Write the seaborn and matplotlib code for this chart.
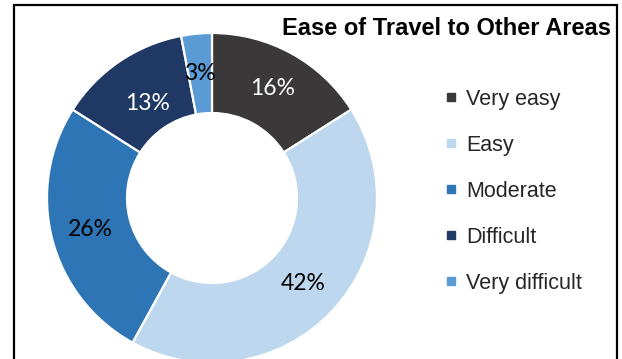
import numpy as np
import matplotlib
matplotlib.use("Agg")
import matplotlib.pyplot as plt
from matplotlib.lines import Line2D
from matplotlib.patches import Rectangle
import seaborn as sns

# Survey responses: ease of travel to other areas (percent of respondents)
categories = ["Very easy", "Easy", "Moderate", "Difficult", "Very difficult"]
shares = [16, 42, 26, 13, 3]
slice_colors = ["#3a3838", "#bdd7ee", "#2e75b6", "#203864", "#5b9bd5"]
label_colors = ["white", "black", "black", "white", "black"]
title = "Ease of Travel to Other Areas"

sns.set_theme(style="white")
palette = sns.color_palette(slice_colors)

W, H = 622, 359
fig = plt.figure(figsize=(W / 100, H / 100), dpi=100)

# Donut centred at (212, 198) px with outer radius 165 px
cx, cy, R = 212, 198, 165
ax = fig.add_axes([(cx - R) / W, (H - cy - R) / H, 2 * R / W, 2 * R / H])

wedges, texts, autotexts = ax.pie(
    shares,
    colors=palette,
    startangle=90,
    counterclock=False,
    autopct="%1.0f%%",
    pctdistance=0.76,
    wedgeprops=dict(width=0.485, edgecolor="white", linewidth=1.6),
    textprops=dict(family="Lato", fontsize=16.5),
)
ax.set_aspect("auto")
ax.set_xlim(-1, 1)
ax.set_ylim(-1, 1)
ax.axis("off")

for t, c in zip(autotexts, label_colors):
    t.set_color(c)

# Pull the "Difficult" label inward so it clears the small neighbouring slice
w = wedges[3]
mid = np.deg2rad((w.theta1 + w.theta2) / 2)
autotexts[3].set_position((0.69 * np.cos(mid), 0.69 * np.sin(mid)))

# Legend with small square keys
handles = [Line2D([], [], marker="s", linestyle="none", markersize=5.2,
                  markerfacecolor=c, markeredgecolor=c) for c in palette]
fig.legend(
    handles, categories,
    loc="upper left",
    bbox_to_anchor=(446 / W, 1 - 89 / H),
    frameon=False,
    prop=dict(family="Liberation Sans", size=15.5),
    handlelength=0.5,
    handletextpad=0.45,
    labelspacing=1.16,
    borderpad=0, borderaxespad=0,
)

fig.text(611 / W, 1 - 35 / H, title, ha="right", va="baseline",
         family="Liberation Sans", fontweight="bold", fontsize=17, color="black")

# Outer frame (open at the bottom edge)
fig.patches.append(Rectangle((14 / W, -0.1), (617 - 14) / W, 1.1 - 5.5 / H,
                             transform=fig.transFigure, fill=False,
                             edgecolor="black", linewidth=1.6))

fig.savefig("out.png", dpi=100)
